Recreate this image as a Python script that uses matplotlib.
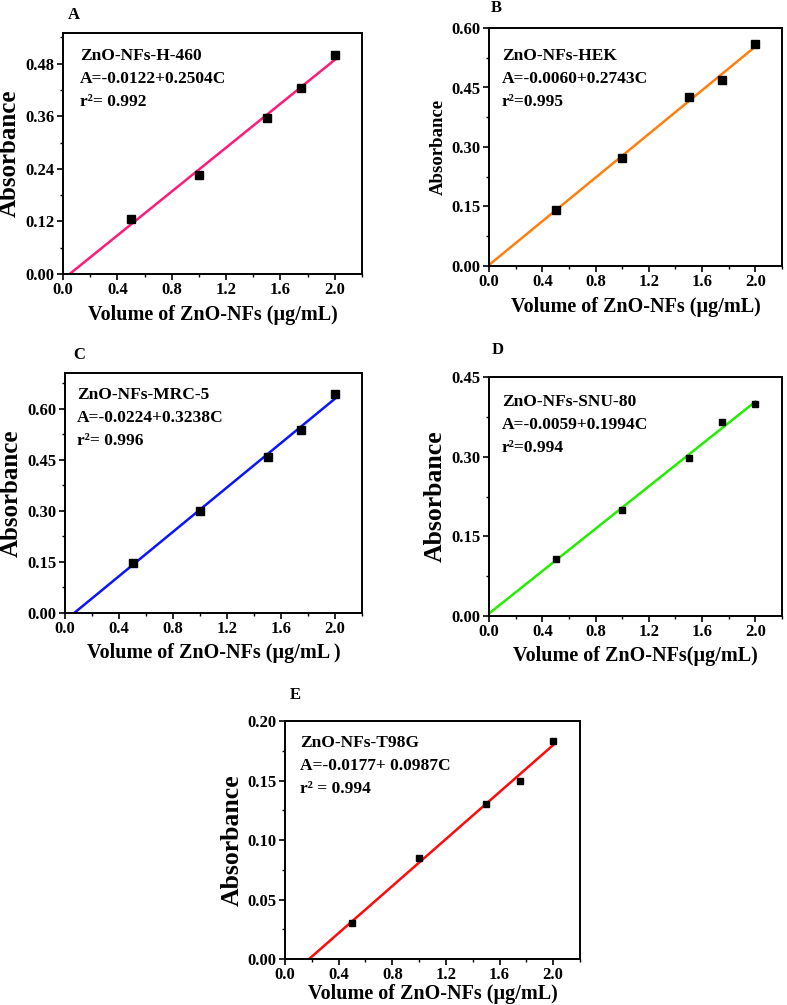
import numpy as np
import matplotlib
matplotlib.use('Agg')
import matplotlib.pyplot as plt
from matplotlib.ticker import MultipleLocator, FormatStrFormatter

plt.rcParams['font.family'] = ['Liberation Serif', 'DejaVu Serif']
plt.rcParams['font.weight'] = 'bold'

# concentrations (same for every panel)
conc = [0.5, 1.0, 1.5, 1.75, 2.0]

# absorbance
abs_a = [0.125, 0.225, 0.355, 0.425, 0.500]
abs_b = [0.142, 0.273, 0.427, 0.470, 0.559]
abs_c = [0.147, 0.301, 0.458, 0.539, 0.644]
abs_d = [0.108, 0.199, 0.298, 0.365, 0.400]
abs_e = [0.030, 0.085, 0.130, 0.150, 0.183]

letters = ['A', 'B', 'C', 'D', 'E']
cell_lines = ['ZnO-NFs-H-460', 'ZnO-NFs-HEK', 'ZnO-NFs-MRC-5', 'ZnO-NFs-SNU-80', 'ZnO-NFs-T98G']
equations = ['A=-0.0122+0.2504C', 'A=-0.0060+0.2743C', 'A=-0.0224+0.3238C',
             'A=-0.0059+0.1994C', 'A=-0.0177+ 0.0987C']
r2_text = ['r\u00b2= 0.992', 'r\u00b2=0.995', 'r\u00b2= 0.996', 'r\u00b2=0.994', 'r\u00b2 = 0.994']
xlabels = ['Volume of ZnO-NFs (\u00b5g/mL)', 'Volume of ZnO-NFs (\u00b5g/mL)',
           'Volume of ZnO-NFs (\u00b5g/mL )', 'Volume of ZnO-NFs(\u00b5g/mL)',
           'Volume of ZnO-NFs (\u00b5g/mL)']
colors = ['#ff1a7a', '#ff7f0e', '#0a14ff', '#22ee00', '#ff0a0a']
ymax = [0.55, 0.60, 0.705, 0.45, 0.20]
ystep = [0.12, 0.15, 0.15, 0.15, 0.05]
ylab_size = [18, 13.5, 18, 18.5, 18.5]
xlab_pad = [5, 5, 4, 4, 0.5]
msize = [6, 6, 6, 4, 4]
all_abs = [abs_a, abs_b, abs_c, abs_d, abs_e]

W, H = 787, 1005
# axes boxes in pixels: left, top, right, bottom
boxes = [(63, 33, 362, 274), (489, 28, 782, 266), (65, 373, 362, 613),
         (489, 377, 782, 616), (285, 721, 580, 959)]
letter_pos = [(68, 15), (491, 8), (73, 355), (492, 350), (290, 695)]
text_off = [(17, 15), (13, 20), (12, 14), (13, 17), (15, 14)]

fig = plt.figure(figsize=(W / 100, H / 100), dpi=100)

for i in range(5):
    l, t, r, b = boxes[i]
    ax = fig.add_axes([l / W, 1 - b / H, (r - l) / W, (b - t) / H])
    y = all_abs[i]
    m, c0 = np.polyfit(conc, y, 1)
    x0 = max(0.0, -c0 / m)
    xl = np.array([x0, 2.0])
    ax.plot(xl, m * xl + c0, color=colors[i], lw=1.8, zorder=2)
    ax.plot(conc, y, 's', color='black', ms=msize[i], zorder=3)

    ax.set_xlim(0, 2.2)
    ax.set_ylim(0, ymax[i])
    ax.xaxis.set_major_locator(MultipleLocator(0.4))
    ax.xaxis.set_minor_locator(MultipleLocator(0.2))
    ax.yaxis.set_major_locator(MultipleLocator(ystep[i]))
    ax.yaxis.set_minor_locator(MultipleLocator(ystep[i] / 2))
    ax.xaxis.set_major_formatter(FormatStrFormatter('%.1f'))
    ax.yaxis.set_major_formatter(FormatStrFormatter('%.2f'))
    ax.tick_params(which='major', direction='out', length=4, width=1.2,
                   labelsize=12, top=False, right=False, pad=2)
    ax.tick_params(which='minor', direction='out', length=2.5, width=1,
                   top=False, right=False)
    for lab in ax.get_xticklabels() + ax.get_yticklabels():
        lab.set_fontweight('bold')
    for sp in ax.spines.values():
        sp.set_linewidth(1.4)

    ax.set_xlabel(xlabels[i], fontsize=14.5, fontweight='bold', labelpad=xlab_pad[i])
    ax.set_ylabel('Absorbance', fontsize=ylab_size[i], fontweight='bold', labelpad=3)

    ph = b - t
    pw = r - l
    dx, dy = text_off[i]
    for k, s in enumerate([cell_lines[i], equations[i], r2_text[i]]):
        ax.text(dx / pw, 1 - (dy + 23 * k) / ph, s, transform=ax.transAxes,
                fontsize=12.5, fontweight='bold', va='top', ha='left')

    lx, ly = letter_pos[i]
    fig.text(lx / W, 1 - ly / H, letters[i], fontsize=12, fontweight='bold',
             va='center', ha='left')

fig.savefig('out.png', dpi=100)
